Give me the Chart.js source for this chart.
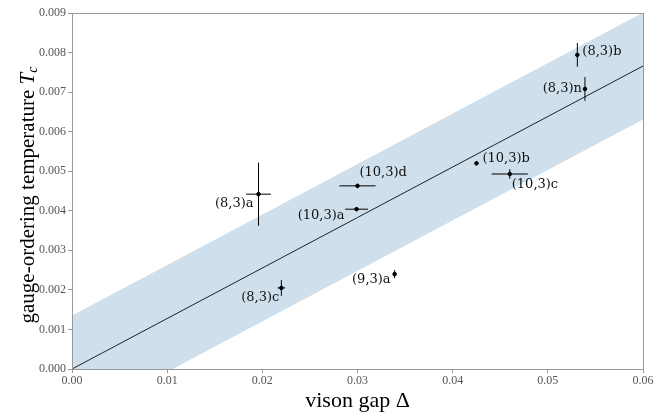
<!DOCTYPE html>
<html>
<head>
<meta charset="utf-8">
<script src="https://cdn.jsdelivr.net/npm/chart.js@4"></script>
<style>
html,body{margin:0;padding:0;background:#fff;}
#wrap{width:662px;height:419px;}
</style>
</head>
<body>
<div id="wrap"><canvas id="chart" width="662" height="419"></canvas></div>
<script>
// data
let names=["(8,3)a","(10,3)d","(10,3)a","(8,3)c","(9,3)a","(10,3)b","(10,3)c","(8,3)b","(8,3)n"];
let gapX=[0.0196,0.0300,0.0299,0.0220,0.0339,0.0425,0.0460,0.0531,0.0539];
let tempY=[0.00442,0.00463,0.00404,0.00205,0.00240,0.00520,0.00493,0.00794,0.00708];
let gapErr=[0.0013,0.0019,0.0012,0.0004,0.0001,0.0001,0.0019,0.0001,0.0001];
let tempErr=[0.0008,0.00005,0.00005,0.0002,0.0001,0.00005,0.00012,0.0003,0.0003];

let fitX=[0,0.06];
let fitY=[0,0.00766];
let bandHi=[0.00135,0.00901];
let bandLo=[-0.00135,0.00631];

let xTicks=[0,0.01,0.02,0.03,0.04,0.05,0.06];
let yTicks=[0,0.001,0.002,0.003,0.004,0.005,0.006,0.007,0.008,0.009];

// label offsets in px from point: [dx, dy, align]
let labelPos=[
[-5,9,"right"],[2,-13,"left"],[-12,6,"right"],[-2,10,"right"],[-4,6,"right"],
[6,-5,"left"],[2,11,"left"],[5,-3,"left"],[-3,0,"right"]
];

let pts=gapX.map((x,i)=>({x:x,y:tempY[i]}));

let errorBars={
id:"errorBars",
afterDatasetsDraw(chart){
let c=chart.ctx,xs=chart.scales.x,ys=chart.scales.y;
c.save();
c.strokeStyle="#000";
c.lineWidth=1;
pts.forEach((p,i)=>{
let px=xs.getPixelForValue(p.x),py=ys.getPixelForValue(p.y);
c.beginPath();
c.moveTo(xs.getPixelForValue(p.x-gapErr[i]),py);
c.lineTo(xs.getPixelForValue(p.x+gapErr[i]),py);
c.moveTo(px,ys.getPixelForValue(p.y-tempErr[i]));
c.lineTo(px,ys.getPixelForValue(p.y+tempErr[i]));
c.stroke();
c.font="13px 'DejaVu Serif'";
c.fillStyle="#111";
c.textAlign=labelPos[i][2];
c.textBaseline="middle";
c.fillText(names[i],px+labelPos[i][0],py+labelPos[i][1]);
});
c.restore();
}
};

let frameAndTitles={
id:"frameAndTitles",
afterDraw(chart){
let c=chart.ctx,a=chart.chartArea;
c.save();
c.strokeStyle="#999";
c.lineWidth=1;
c.strokeRect(a.left+0.5,a.top+0.5,a.right-a.left,a.bottom-a.top);
c.fillStyle="#000";
c.textBaseline="middle";
// x title
c.font="22px 'Liberation Serif'";
c.textAlign="center";
c.fillText("vison gap Δ",(a.left+a.right)/2,401);
// y title with italic T and subscript c
c.translate(28,(a.top+a.bottom)/2+4);
c.rotate(-Math.PI/2);
let main="gauge-ordering temperature ";
c.font="21px 'Liberation Serif'";
let w1=c.measureText(main).width;
c.font="italic 21px 'Liberation Serif'";
let w2=c.measureText("T").width;
c.font="italic 14px 'Liberation Serif'";
let w3=c.measureText("c").width;
let x0=-(w1+w2+w3)/2;
c.textAlign="left";
c.font="21px 'Liberation Serif'";
c.fillText(main,x0,0);
c.font="italic 21px 'Liberation Serif'";
c.fillText("T",x0+w1,0);
c.font="italic 14px 'Liberation Serif'";
c.fillText("c",x0+w1+w2,5);
c.restore();
}
};

new Chart(document.getElementById("chart"),{
type:"scatter",
data:{
datasets:[
{
label:"hi",
type:"line",
data:fitX.map((x,i)=>({x:x,y:bandHi[i]})),
borderWidth:0,
pointRadius:0,
backgroundColor:"#cfe0ec",
fill:"+1",
order:3
},
{
label:"lo",
type:"line",
data:fitX.map((x,i)=>({x:x,y:bandLo[i]})),
borderWidth:0,
pointRadius:0,
fill:false,
order:3
},
{
label:"fit",
type:"line",
data:fitX.map((x,i)=>({x:x,y:fitY[i]})),
borderColor:"#222",
borderWidth:1,
pointRadius:0,
fill:false,
order:2
},
{
label:"points",
data:pts,
pointRadius:1.8,
pointBackgroundColor:"#000",
pointBorderColor:"#000",
order:1
}
]
},
options:{
responsive:false,
animation:false,
layout:{padding:{left:0,right:19,top:13,bottom:0}},
plugins:{legend:{display:false},tooltip:{enabled:false}},
scales:{
x:{
type:"linear",
min:0,max:0.06,
afterBuildTicks(s){s.ticks=xTicks.map(v=>({value:v}));},
afterFit(s){s.height=50;},
grid:{drawOnChartArea:false,tickLength:4,color:"#999"},
border:{color:"#999"},
ticks:{color:"#555",font:{family:"'Liberation Serif'",size:12},padding:1,
callback:v=>v.toFixed(2)}
},
y:{
min:0,max:0.009,
afterBuildTicks(s){s.ticks=yTicks.map(v=>({value:v}));},
afterFit(s){s.width=72;},
grid:{drawOnChartArea:false,tickLength:4,color:"#999"},
border:{color:"#999"},
ticks:{color:"#555",font:{family:"'Liberation Serif'",size:12},padding:2,
callback:v=>v.toFixed(3)}
}
}
},
plugins:[errorBars,frameAndTitles]
});
</script>
</body>
</html>
